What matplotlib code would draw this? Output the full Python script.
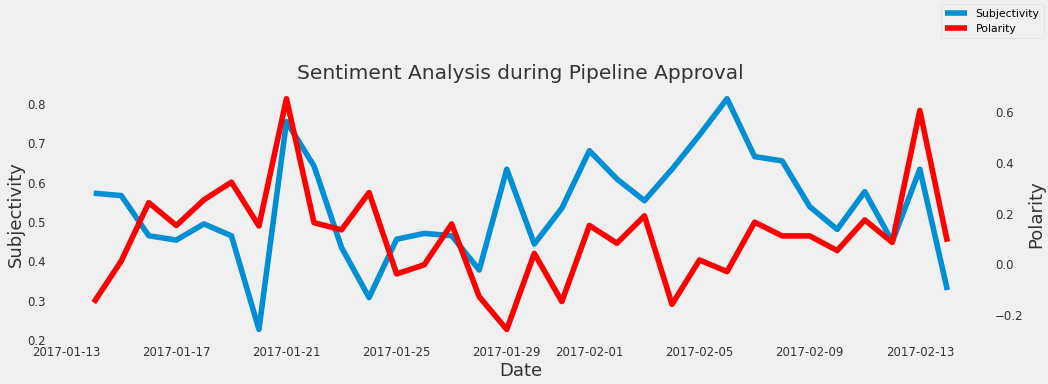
import matplotlib
matplotlib.use("Agg")
import matplotlib.pyplot as plt
import matplotlib.dates as mdates
import pandas as pd

plt.style.use("fivethirtyeight")

dates = pd.date_range("2017-01-14", "2017-02-14", freq="D")
subjectivity = [0.573, 0.567, 0.465, 0.454, 0.495, 0.465, 0.227, 0.755,
                0.642, 0.435, 0.308, 0.456, 0.471, 0.465, 0.378, 0.634,
                0.444, 0.535, 0.681, 0.609, 0.554, 0.634, 0.721, 0.813,
                0.666, 0.655, 0.539, 0.481, 0.577, 0.450, 0.634, 0.327]
polarity = [-0.151, 0.013, 0.243, 0.153, 0.254, 0.324, 0.151, 0.653,
            0.164, 0.136, 0.283, -0.038, -0.002, 0.159, -0.128, -0.257,
            0.043, -0.147, 0.153, 0.083, 0.191, -0.158, 0.017, -0.029,
            0.166, 0.112, 0.112, 0.054, 0.175, 0.086, 0.607, 0.089]

fig = plt.figure(figsize=(10.48, 3.84), dpi=100)
fig.patch.set_facecolor("#f0f0f0")
ax = fig.add_axes([0.0487, 0.112, 0.896, 0.661])
ax2 = ax.twinx()

l1, = ax.plot(dates, subjectivity, color="#008fd5", lw=4, label="Subjectivity")
l2, = ax2.plot(dates, polarity, color="red", lw=4, label="Polarity")

for a in (ax, ax2):
    a.grid(False)
    a.set_facecolor("#f0f0f0")
    a.tick_params(labelsize=8.5, length=0, colors="#333333")
    for s in a.spines.values():
        s.set_visible(False)

ax.xaxis.set_major_locator(mdates.DayLocator(bymonthday=[1, 5, 9, 13, 17, 21, 25, 29]))
ax.xaxis.set_major_formatter(mdates.DateFormatter("%Y-%m-%d"))
ax.set_yticks([0.2, 0.3, 0.4, 0.5, 0.6, 0.7, 0.8])
ax2.set_yticks([-0.2, 0.0, 0.2, 0.4, 0.6])

ax.set_xlabel("Date", fontsize=13, color="#333333", labelpad=2)
ax.set_ylabel("Subjectivity", fontsize=13, color="#333333", labelpad=2)
ax2.set_ylabel("Polarity", fontsize=13, color="#333333", labelpad=3)
ax.set_title("Sentiment Analysis during Pipeline Approval", fontsize=14.5,
             color="#333333", pad=6)

fig.legend(handles=[l1, l2], loc="upper right", fontsize=7.8, frameon=True,
           facecolor="#f0f0f0", edgecolor="#dddddd", borderaxespad=0.4)

fig.savefig("out.png", dpi=100, facecolor="#f0f0f0")
